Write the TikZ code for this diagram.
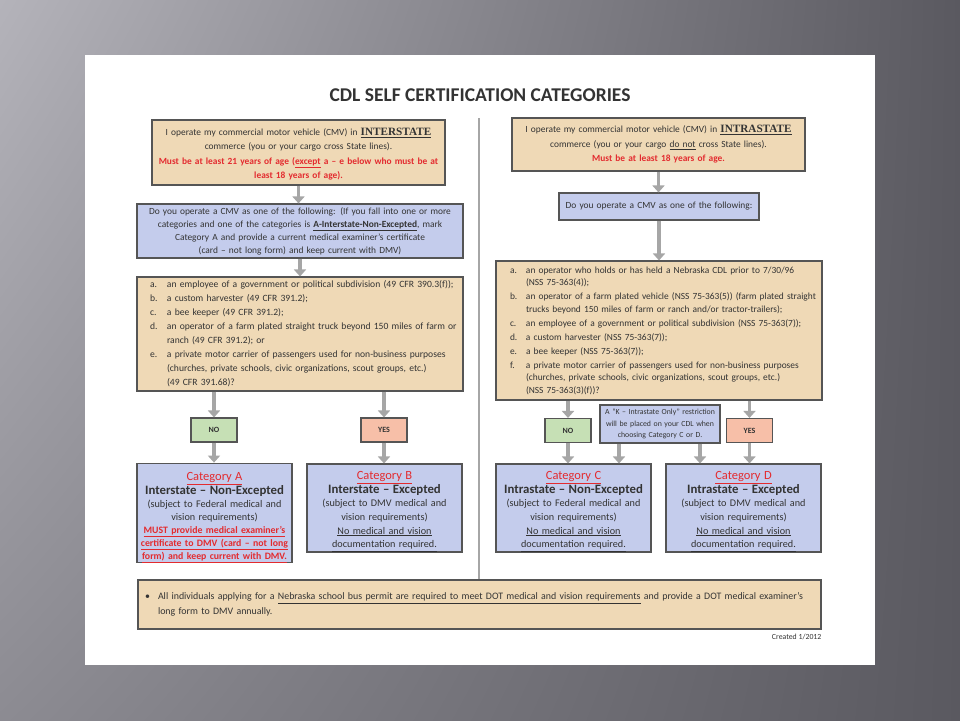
\documentclass[tikz,border=0pt]{standalone}
\usepackage{fontspec}
\setmainfont{Carlito}
\newfontfamily\statefont{Liberation Serif}
\usepackage{xcolor}
\usetikzlibrary{positioning,arrows.meta,shadings}
\definecolor{SlideLight}{HTML}{B4B3BA}
\definecolor{SlideMid}{HTML}{8C8B92}
\definecolor{SlideDark}{HTML}{5A5960}
\definecolor{PermitTan}{HTML}{EFD9B6}
\definecolor{FormBlue}{HTML}{C4CCEC}
\definecolor{NoGreen}{HTML}{C6E0B5}
\definecolor{YesSalmon}{HTML}{F7BFA8}
\definecolor{AlertRed}{HTML}{E32B2F}
\definecolor{InkGray}{HTML}{333333}
\definecolor{EdgeGray}{HTML}{555555}
\definecolor{ArrowGray}{HTML}{A6A6A6}

\newcommand{\redline}[1]{\textcolor{AlertRed}{\bfseries #1}}
\newcommand{\catname}[2]{\rule{0pt}{#1}{\fontsize{12.5}{13}\selectfont\textcolor{AlertRed}{\underline{#2}}}}
\newcommand{\catkind}[1]{{\fontsize{12.8}{13}\selectfont\bfseries #1}}
\newcommand{\bigstate}[1]{\underline{\statefont\fontsize{11.2}{12}\selectfont\bfseries #1}}

\begin{document}
\begin{tikzpicture}[x=1pt,y=-1pt,
    panel/.style={draw=EdgeGray,line width=1.1pt,inner sep=0pt,text=InkGray,align=center,font=\fontsize{9.4}{13}\selectfont},
    tanbox/.style={panel,fill=PermitTan},
    bluebox/.style={panel,fill=FormBlue},
    catbox/.style={bluebox,minimum width=155pt,text width=153pt,font=\fontsize{10.2}{13.6}\selectfont},
    answer/.style={panel,minimum width=46pt,minimum height=24pt,font=\fontsize{8}{9}\selectfont\bfseries},
    flowarrow/.style={draw=ArrowGray,line width=3.2pt,-{Triangle[width=12pt,length=7pt]}}]
  \useasboundingbox (0,0) rectangle (960,720);
  % slide and page
  \shade[upper left=SlideLight,upper right=SlideDark,lower left=SlideMid,lower right=SlideDark] (0,0) rectangle (960,720);
  \fill[white] (85,55) rectangle (875,665);

  \node[font=\fontsize{19.5}{22}\selectfont\bfseries,text=InkGray] (title) at (480,95) {CDL SELF CERTIFICATION CATEGORIES};

  % interstate side
  \node[tanbox,minimum width=293pt,minimum height=65pt,text width=291pt,font=\fontsize{9.4}{14.5}\selectfont] (intertop) at (298.5,152.5) {\rule{0pt}{11pt}I operate my commercial motor vehicle (CMV) in \bigstate{INTERSTATE}\\
    commerce (you or your cargo cross State lines).\\
    \redline{Must be at least 21 years of age (\underline{except} a -- e below who must be at}\\
    \redline{least 18 years of age).}};
  \node[bluebox,minimum width=326pt,minimum height=54pt,text width=322pt] (interq) at (300,231) {Do you operate a CMV as one of the following: (If you fall into one or more\\
    categories and one of the categories is \underline{\textbf{A-Interstate-Non-Excepted}}, mark\\
    Category A and provide a current medical examiner’s certificate\\
    (card -- not long form) and keep current with DMV)};
  \node[tanbox,minimum width=326pt,minimum height=114pt,text width=318pt,align=left,font=\fontsize{9.6}{14}\selectfont] (interlist) at (300,334) {%
    \begin{tabular}{@{\hspace{9pt}}p{12pt}@{\hspace{5pt}}p{292pt}@{}}
      a. & an employee of a government or political subdivision (49 CFR 390.3(f));\\
      b. & a custom harvester (49 CFR 391.2);\\
      c. & a bee keeper (49 CFR 391.2);\\
      d. & an operator of a farm plated straight truck beyond 150 miles of farm or\newline ranch (49 CFR 391.2); or\\
      e. & a private motor carrier of passengers used for non-business purposes\newline (churches, private schools, civic organizations, scout groups, etc.)\newline (49 CFR 391.68)?
    \end{tabular}};
  \node[answer,fill=NoGreen] (interno) at (214,430) {NO};
  \node[answer,fill=YesSalmon] (interyes) at (384,430) {YES};
  \node[catbox,minimum height=98pt,font=\fontsize{10.2}{13}\selectfont] (cata) at (214.5,513) {\catname{17pt}{Category A}\\
    \catkind{Interstate -- Non-Excepted}\\
    (subject to Federal medical and\\
    vision requirements)\\
    {\fontsize{9.8}{13}\selectfont\redline{\underline{MUST provide medical examiner’s}}}\\
    {\fontsize{9.8}{13}\selectfont\redline{\underline{certificate to DMV (card -- not long}}}\\
    {\fontsize{9.8}{13}\selectfont\redline{\underline{form) and keep current with DMV.}}}};
  \node[catbox,minimum height=88pt] (catb) at (384.5,508) {\catname{15pt}{Category B}\\
    \catkind{Interstate -- Excepted}\\
    (subject to DMV medical and\\
    vision requirements)\\
    \underline{No medical and vision}\\
    \underline{documentation required.}};

  % intrastate side
  \node[tanbox,minimum width=293pt,minimum height=53pt,text width=291pt,font=\fontsize{9.4}{14.5}\selectfont] (intratop) at (658.5,144.5) {I operate my commercial motor vehicle (CMV) in \bigstate{INTRASTATE}\\
    commerce (you or your cargo \underline{do not} cross State lines).\\
    \redline{Must be at least 18 years of age.}};
  \node[bluebox,minimum width=200pt,minimum height=27pt,text width=196pt] (intraq) at (659,206.5) {Do you operate a CMV as one of the following:};
  \node[tanbox,minimum width=326pt,minimum height=139pt,text width=322pt,align=left,font=\fontsize{9.4}{12.5}\selectfont] (intralist) at (659,330.5) {%
    \begin{tabular}{@{\hspace{12pt}}p{11pt}@{\hspace{5pt}}p{294pt}@{}}
      a. & an operator who holds or has held a Nebraska CDL prior to 7/30/96\newline (NSS 75-363(4));\\[1.5pt]
      b. & an operator of a farm plated vehicle (NSS 75-363(5)) (farm plated straight\newline trucks beyond 150 miles of farm or ranch and/or tractor-trailers);\\[1.5pt]
      c. & an employee of a government or political subdivision (NSS 75-363(7));\\[1.5pt]
      d. & a custom harvester (NSS 75-363(7));\\[1.5pt]
      e. & a bee keeper (NSS 75-363(7));\\[1.5pt]
      f. & a private motor carrier of passengers used for non-business purposes\newline (churches, private schools, civic organizations, scout groups, etc.)\newline (NSS 75-363(3)(f))?
    \end{tabular}};
  \node[answer,fill=NoGreen] (intrano) at (568,430.5) {NO};
  \node[answer,fill=YesSalmon] (intrayes) at (749.5,430.5) {YES};
  \node[bluebox,minimum width=120pt,minimum height=38pt,text width=118pt,font=\fontsize{7.8}{11.5}\selectfont] (knote) at (660,424) {A “K -- Intrastate Only” restriction\\
    will be placed on your CDL when\\
    choosing Category C or D.};
  \node[catbox,minimum height=88pt] (catc) at (573.5,508) {\catname{15pt}{Category C}\\
    \catkind{Intrastate -- Non-Excepted}\\
    (subject to Federal medical and\\
    vision requirements)\\
    \underline{No medical and vision}\\
    \underline{documentation required.}};
  \node[catbox,minimum height=88pt] (catd) at (743.5,508) {\catname{15pt}{Category D}\\
    \catkind{Intrastate -- Excepted}\\
    (subject to DMV medical and\\
    vision requirements)\\
    \underline{No medical and vision}\\
    \underline{documentation required.}};

  % footer
  \node[tanbox,minimum width=683pt,minimum height=49pt,text width=669pt,align=left,font=\fontsize{9.9}{14.5}\selectfont] (busnote) at (479.5,604.5) {\makebox[13pt][l]{\textbullet}All individuals applying for a \underline{Nebraska school bus permit are required to meet DOT medical and vision requirements} and provide a DOT medical examiner’s\\
    \hspace*{13pt}long form to DMV annually.};
  \node[font=\fontsize{7.8}{9}\selectfont,text=InkGray,anchor=north east,inner sep=0pt] (created) at ([yshift=-4pt]busnote.south east) {Created 1/2012};

  % divider
  \coordinate (divtop) at (479,118);
  \draw[ArrowGray,line width=1.3pt] (divtop) -- (divtop |- busnote.north);

  % arrows
  \draw[flowarrow] (intertop.south) -- (intertop.south |- interq.north);
  \draw[flowarrow] (interq.south) -- (interq.south |- interlist.north);
  \draw[flowarrow] (interlist.south -| interno) -- (interno.north);
  \draw[flowarrow] (interlist.south -| interyes) -- (interyes.north);
  \draw[flowarrow] (interno.south) -- (interno.south |- cata.north);
  \draw[flowarrow] (interyes.south) -- (interyes.south |- catb.north);
  \draw[flowarrow] (intratop.south) -- (intratop.south |- intraq.north);
  \draw[flowarrow] (intraq.south) -- (intraq.south |- intralist.north);
  \draw[flowarrow] (intralist.south -| intrano) -- (intrano.north);
  \draw[flowarrow] (intralist.south -| intrayes) -- (intrayes.north);
  \draw[flowarrow] (intrano.south) -- (intrano.south |- catc.north);
  \draw[flowarrow] (intrayes.south) -- (intrayes.south |- catd.north);
  \draw[flowarrow] ([xshift=-41pt]knote.south) -- ([xshift=-41pt]knote.south |- catc.north);
  \draw[flowarrow] ([xshift=40pt]knote.south) -- ([xshift=40pt]knote.south |- catd.north);
\end{tikzpicture}
\end{document}
